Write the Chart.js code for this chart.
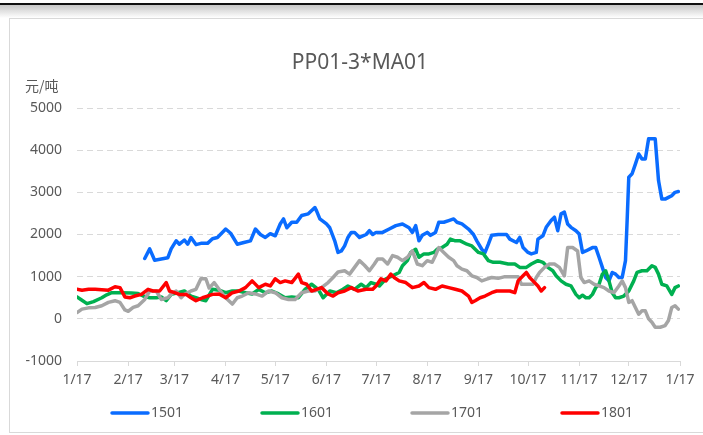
<!DOCTYPE html>
<html>
<head>
<meta charset="utf-8">
<script src="https://cdn.jsdelivr.net/npm/chart.js@4"></script>
<style>
  html, body { margin: 0; padding: 0; background: #fff; }
  body { width: 703px; height: 435px; position: relative; overflow: hidden; }
  #topLine { position: absolute; left: 0; top: 3px; width: 703px; height: 2px; background: #111; }
  #shade { position: absolute; left: 0; top: 5px; width: 703px; height: 13px;
           background: linear-gradient(#c8c8c8, #fff); }
  #frame { position: absolute; left: 9px; top: 18px; width: 720px; height: 413px;
           border: 1.5px solid #d9d9d9; background: #fff; }
  #chartBox { position: absolute; left: 0; top: 0; width: 703px; height: 435px; }
</style>
</head>
<body>
<div id="topLine"></div>
<div id="shade"></div>
<div id="frame"></div>
<div id="chartBox"><canvas id="spreadChart" width="703" height="435"></canvas></div>
<script>
// Month boundaries (days since 1/17) and their labels
const monthDays = [0, 31, 59, 90, 120, 151, 181, 212, 243, 273, 304, 334, 365];
const tickLabels = ["1/17", "2/17", "3/17", "4/17", "5/17", "6/17", "7/17",
  "8/17", "9/17", "10/17", "11/17", "12/17", "1/17"];

const titleText = "PP01-3*MA01";
const unitText = "元/吨";
const seriesNames = ["1501", "1601", "1701", "1801"];
const seriesColors = ["#0a6cff", "#00b050", "#a5a5a5", "#ff0000"];

// [day, value]
const s1501 = [[41,1430],[44,1660],[47,1390],[51,1420],[55,1450],[57,1660],[60,1850],[62,1770],
  [65,1870],[67,1770],[69,1930],[72,1760],[75,1790],[79,1790],[82,1900],[85,1930],[89,2090],
  [90,2130],[93,2030],[97,1770],[101,1810],[105,1850],[108,2130],[111,2000],[114,1930],[117,2020],
  [120,1970],[123,2250],[125,2370],[127,2160],[130,2290],[133,2290],[136,2450],[140,2490],
  [144,2640],[145,2560],[147,2370],[151,2250],[153,2160],[156,1850],[158,1575],[160,1610],
  [162,1730],[164,1930],[166,2050],[168,2050],[171,1930],[175,2000],[177,2090],[179,2000],
  [181,2050],[185,2050],[189,2130],[193,2210],[197,2250],[201,2160],[203,2050],[205,2210],
  [207,1850],[209,1980],[212,2050],[214,1980],[217,2050],[219,2290],[222,2290],[225,2330],
  [228,2370],[230,2290],[233,2250],[237,2130],[240,2000],[242,1850],[245,1650],[247,1575],
  [249,1770],[251,1980],[255,2000],[260,2000],[262,1890],[266,1810],[268,1930],[270,1690],
  [273,1575],[275,1540],[278,1575],[279,1890],[282,1970],[284,2170],[287,2330],[289,2410],
  [291,2090],[293,2490],[295,2530],[297,2250],[299,2170],[302,2090],[304,2010],[306,1575],
  [308,1610],[312,1690],[314,1690],[316,1460],[318,1220],[320,980],[322,900],[324,1100],
  [326,1060],[328,980],[330,980],[332,1380],[333,2330],[334,3360],[336,3440],[338,3670],
  [340,3910],[342,3790],[344,3790],[346,4270],[350,4270],[352,3280],[354,2840],[356,2840],
  [358,2880],[360,2920],[362,3000],[364,3020]];

const s1601 = [[0,520],[3,440],[6,360],[10,410],[15,500],[18,570],[21,620],[24,620],[27,620],
  [33,610],[37,600],[40,540],[44,500],[48,500],[51,520],[54,430],[57,580],[61,620],[65,660],
  [69,540],[72,500],[75,460],[78,430],[82,700],[86,680],[90,620],[94,660],[98,660],[102,620],
  [106,590],[110,700],[114,620],[118,660],[122,590],[126,500],[130,520],[134,500],[138,700],
  [142,820],[146,700],[149,500],[153,660],[157,620],[161,700],[164,780],[168,700],[172,820],
  [175,740],[178,860],[181,820],[183,780],[187,950],[191,1020],[195,1100],[197,1260],[200,1380],
  [202,1575],[205,1650],[207,1460],[210,1540],[213,1540],[216,1575],[218,1650],[221,1690],
  [224,1770],[226,1890],[229,1850],[232,1850],[236,1770],[239,1730],[243,1575],[246,1540],
  [249,1380],[252,1340],[256,1340],[261,1300],[265,1300],[268,1220],[272,1220],[275,1300],
  [279,1380],[282,1340],[285,1220],[288,1140],[290,1020],[293,900],[296,820],[299,780],
  [302,580],[304,500],[306,560],[308,500],[310,500],[312,580],[314,740],[316,820],[318,1060],
  [320,1140],[322,900],[324,620],[326,500],[328,500],[331,540],[334,660],[337,900],[339,1100],
  [342,1140],[345,1140],[348,1260],[350,1220],[352,1060],[354,820],[357,780],[360,580],
  [362,740],[364,780]];

const s1701 = [[0,150],[3,230],[7,260],[11,270],[15,310],[19,390],[23,430],[26,390],[29,210],
  [31,180],[34,270],[37,310],[41,460],[44,660],[48,660],[51,460],[55,500],[58,620],[60,660],
  [63,500],[65,580],[69,660],[72,700],[75,950],[78,950],[80,730],[83,860],[86,700],[90,500],
  [94,350],[97,500],[100,540],[104,620],[108,590],[112,540],[116,660],[120,620],[124,500],
  [128,460],[132,460],[136,620],[140,660],[144,660],[148,740],[152,860],[155,980],[158,1110],
  [162,1140],[165,1060],[168,1220],[171,1380],[174,1270],[177,1140],[180,1300],[182,1420],
  [185,1420],[188,1300],[191,1500],[194,1460],[197,1380],[200,1460],[203,1610],[206,1300],
  [209,1260],[212,1380],[215,1340],[217,1500],[219,1690],[222,1575],[225,1460],[228,1380],
  [230,1260],[233,1180],[236,1140],[239,1020],[242,980],[245,900],[248,940],[251,980],
  [255,960],[259,1000],[263,1000],[267,1000],[269,820],[273,820],[276,820],[278,980],
  [280,1100],[283,1220],[286,1300],[289,1300],[292,1220],[295,1020],[297,1690],[300,1690],
  [303,1610],[305,980],[307,860],[310,900],[313,820],[316,780],[319,740],[322,660],[325,620],
  [328,780],[330,900],[332,740],[334,390],[336,430],[338,270],[340,110],[342,190],[344,190],
  [346,0],[348,-80],[350,-200],[353,-200],[356,-160],[358,-40],[360,270],[362,310],[364,230]];

const s1801 = [[0,700],[3,680],[7,700],[11,700],[15,690],[19,680],[23,760],[26,740],[29,520],
  [32,500],[35,540],[39,580],[43,700],[46,660],[50,660],[54,860],[56,660],[59,620],[62,580],
  [66,580],[69,500],[72,430],[76,500],[79,540],[82,580],[86,590],[90,500],[94,620],[98,660],
  [102,740],[106,900],[110,740],[114,820],[117,780],[120,950],[123,860],[126,900],[130,860],
  [134,1060],[136,860],[139,820],[142,660],[145,700],[148,740],[152,590],[155,540],[158,620],
  [162,660],[166,740],[170,660],[175,700],[179,700],[181,780],[184,950],[187,900],[190,1060],
  [192,980],[195,900],[199,860],[203,740],[207,780],[210,860],[213,740],[217,700],[221,780],
  [225,740],[229,700],[233,660],[237,540],[239,390],[241,430],[244,500],[247,540],[251,620],
  [254,660],[258,660],[262,660],[265,620],[267,900],[270,1020],[272,1100],[274,980],[276,900],
  [279,780],[281,660],[283,740]];

const allSeries = [s1501, s1601, s1701, s1801];

Chart.defaults.font.family = '"Noto Sans", sans-serif';
Chart.defaults.font.size = 14;
Chart.defaults.color = "#595959";

// Title, unit label and legend drawn on the canvas
const decorPlugin = {
  id: "decor",
  afterDraw(chart) {
    const ctx = chart.ctx;
    ctx.save();
    ctx.fillStyle = "#595959";
    ctx.textBaseline = "middle";
    ctx.font = '21px "Noto Sans", sans-serif';
    ctx.textAlign = "center";
    ctx.fillText(titleText, 360, 63);
    ctx.font = '14px "Noto Sans CJK SC", sans-serif';
    ctx.textAlign = "left";
    ctx.fillText(unitText, 25, 86);

    ctx.font = '14px "Noto Sans", sans-serif';
    chart.data.datasets.forEach((ds, i) => {
      const x0 = 112 + i * 150;
      ctx.strokeStyle = ds.borderColor;
      ctx.lineWidth = 3.5;
      ctx.lineCap = "round";
      ctx.beginPath();
      ctx.moveTo(x0, 413);
      ctx.lineTo(x0 + 36, 413);
      ctx.stroke();
      ctx.fillText(ds.label, x0 + 39, 413);
    });
    ctx.restore();
  },
};

const ctx = document.getElementById("spreadChart");

window.spreadChart = new Chart(ctx, {
  type: "line",
  data: {
    datasets: allSeries.map((s, i) => ({
      label: seriesNames[i],
      data: s.map((p) => ({ x: p[0], y: p[1] })),
      borderColor: seriesColors[i],
      backgroundColor: seriesColors[i],
      borderWidth: 3.5,
      borderJoinStyle: "round",
      borderCapStyle: "round",
      pointRadius: 0,
      tension: 0,
      fill: false,
      order: allSeries.length - i, // later series on top
    })),
  },
  options: {
    responsive: false,
    animation: false,
    layout: {
      padding: { left: 0, top: 108, right: 23, bottom: 0 },
    },
    plugins: {
      legend: { display: false },
      title: { display: false },
      tooltip: { enabled: false },
    },
    scales: {
      x: {
        type: "linear",
        min: 0,
        max: 365,
        afterBuildTicks: (axis) => {
          axis.ticks = monthDays.map((d) => ({ value: d }));
        },
        afterFit: (axis) => {
          axis.height = 74;
        },
        ticks: {
          autoSkip: false,
          maxRotation: 0,
          padding: 6,
          callback: (value, index) => tickLabels[index],
        },
        grid: {
          drawOnChartArea: false,
          drawTicks: true,
          tickLength: 5,
          color: "#d9d9d9",
        },
        border: { color: "#d9d9d9", width: 1 },
      },
      y: {
        min: -1000,
        max: 5000,
        afterFit: (axis) => {
          axis.width = 77;
        },
        ticks: {
          stepSize: 1000,
          padding: 15,
          callback: (value) => String(value),
        },
        grid: {
          drawTicks: false,
          color: (c) => (c.tick && c.tick.value === -1000 ? "rgba(0,0,0,0)" : "#d9d9d9"),
        },
        border: { display: false, dash: [6, 4] },
      },
    },
  },
  plugins: [decorPlugin],
});
</script>
</body>
</html>
